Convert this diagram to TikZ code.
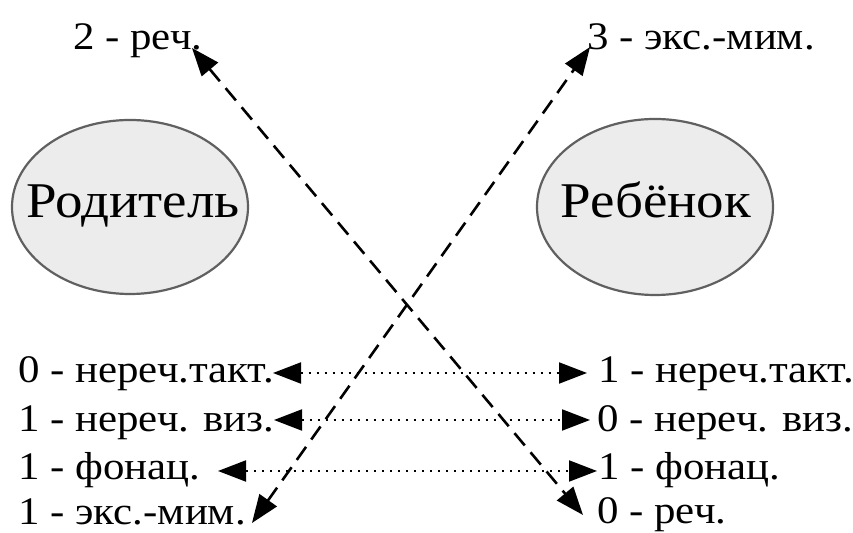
\documentclass[tikz,border=0pt]{standalone}
\usepackage{fontspec}
\setmainfont[FakeStretch=1.1]{Liberation Serif}
\usetikzlibrary{arrows.meta}
\definecolor{ellfill}{HTML}{ECECEC}
\definecolor{ellline}{HTML}{606060}
\tikzset{
  person/.style={draw=ellline, line width=1.1pt, fill=ellfill},
  lbl/.style={font=\fontsize{19.5pt}{22pt}\selectfont, inner sep=0pt, anchor=base west},
  big/.style={font=\fontsize{25pt}{30pt}\selectfont, inner sep=0pt, anchor=base},
  headtip/.tip={Triangle[length=14pt,width=10.5pt]},
  dashconn/.style={line width=1.3pt, dash pattern=on 8pt off 4.5pt, headtip-headtip},
  dotconn/.style={line width=1pt, dash pattern=on 1pt off 3pt, headtip-headtip}
}
\begin{document}
\begin{tikzpicture}[x=0.5pt,y=-0.5pt]
\useasboundingbox (0,0) rectangle (853,533);
% ellipses
\draw[person] (130,207) ellipse [x radius=118, y radius=87];
\draw[person] (655,207) ellipse [x radius=118, y radius=88];
\node[big] (par) at (133,218) {Родитель};
\node[big] (chi) at (656,218) {Ребёнок};
% top labels
\node[lbl] (t2) at (73,50) {2 - реч.};
\node[lbl] (t3) at (587,50) {3 - экс.-мим.};
% left column
\node[lbl] (l1) at (18,383) {0 - нереч.такт.};
\node[lbl] (l2) at (18,432) {1 - нереч. виз.};
\node[lbl] (l3) at (18,480) {1 - фонац.};
\node[lbl] (l4) at (18,525) {1 - экс.-мим.};
% right column
\node[lbl] (r1) at (598,383) {1 - нереч.такт.};
\node[lbl] (r2) at (597,432) {0 - нереч. виз.};
\node[lbl] (r3) at (598,480) {1 - фонац.};
\node[lbl] (r4) at (597,524) {0 - реч.};
% arrow end points
\coordinate (a1l) at (273,373);
\coordinate (a1r) at (587,373);
\coordinate (a2l) at (274,420);
\coordinate (a2r) at (590,420);
\coordinate (a3l) at (218,471);
\coordinate (a3r) at (597,471);
\coordinate (d1a) at (192,48);
\coordinate (d1b) at (583,515);
\coordinate (d2a) at (252,523);
\coordinate (d2b) at (590,47);
% connectors
\draw[dotconn] (a1l) -- (a1r);
\draw[dotconn] (a2l) -- (a2r);
\draw[dotconn] (a3l) -- (a3r);
\draw[dashconn] (d1a) -- (d1b);
\draw[dashconn] (d2a) -- (d2b);
\end{tikzpicture}
\end{document}
